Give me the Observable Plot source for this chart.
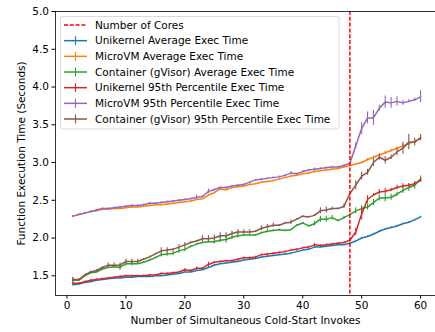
<!DOCTYPE html>
<html>
<head>
<meta charset="utf-8">
<script src="https://cdn.jsdelivr.net/npm/d3@7"></script>
<script src="https://cdn.jsdelivr.net/npm/@observablehq/plot@0.6"></script>
<style>
  html, body { margin: 0; padding: 0; background: #fff; }
  #chart { width: 435px; height: 332px; position: relative; }
</style>
</head>
<body>
<div id="chart"></div>
<script>
const invokes = d3.range(1, 61);
const coresLine = 48;
const xTicks = [0, 10, 20, 30, 40, 50, 60];
const yTicks = [1.5, 2.0, 2.5, 3.0, 3.5, 4.0, 4.5, 5.0];

const seriesNames = [
  "Unikernel Average Exec Time",
  "MicroVM Average Exec Time",
  "Container (gVisor) Average Exec Time",
  "Unikernel 95th Percentile Exec Time",
  "MicroVM 95th Percentile Exec Time",
  "Container (gVisor) 95th Percentile Exec Time"
];
const seriesColors = ["#1f77b4", "#ff7f0e", "#2ca02c", "#d62728", "#9467bd", "#8c564b"];

const unikernelAvg = [1.38,1.39,1.41,1.42,1.44,1.45,1.46,1.47,1.47,1.48, 1.48,1.49,1.49,1.49,1.50,1.50,1.51,1.52,1.53,1.55, 1.55,1.57,1.58,1.61,1.64,1.66,1.67,1.68,1.69,1.71, 1.72,1.73,1.75,1.76,1.77,1.78,1.79,1.80,1.82,1.84, 1.85,1.88,1.88,1.89,1.90,1.91,1.91,1.93,1.96,2.00, 2.02,2.05,2.09,2.12,2.14,2.16,2.19,2.21,2.24,2.28];
const microvmAvg = [2.29,2.31,2.33,2.35,2.36,2.38,2.38,2.39,2.39,2.40, 2.41,2.41,2.42,2.43,2.44,2.44,2.45,2.46,2.47,2.48, 2.49,2.51,2.52,2.57,2.60,2.65,2.64,2.67,2.68,2.69, 2.71,2.72,2.74,2.75,2.76,2.78,2.80,2.82,2.83,2.85, 2.86,2.88,2.89,2.90,2.91,2.92,2.94,2.96,2.98,3.00, 3.04,3.07,3.10,3.13,3.16,3.19,3.22,3.25,3.28,3.32];
const containerAvg = [1.44,1.44,1.50,1.54,1.55,1.59,1.61,1.62,1.61,1.66, 1.66,1.66,1.68,1.71,1.74,1.78,1.79,1.80,1.83,1.85, 1.89,1.92,1.94,1.95,1.95,1.97,1.98,2.01,2.03,2.04, 2.04,2.04,2.07,2.09,2.10,2.11,2.10,2.11,2.17,2.20, 2.16,2.19,2.25,2.25,2.27,2.23,2.27,2.31,2.36,2.39, 2.41,2.47,2.53,2.53,2.54,2.58,2.63,2.67,2.70,2.78];
const unikernelP95 = [1.40,1.40,1.42,1.44,1.45,1.46,1.47,1.48,1.49,1.50, 1.50,1.50,1.50,1.51,1.51,1.53,1.53,1.54,1.55,1.58, 1.57,1.60,1.60,1.65,1.68,1.69,1.70,1.70,1.72,1.74, 1.74,1.75,1.78,1.79,1.80,1.81,1.82,1.84,1.85,1.87, 1.88,1.91,1.90,1.91,1.92,1.93,1.94,1.97,2.08,2.32, 2.51,2.57,2.61,2.62,2.64,2.67,2.69,2.70,2.72,2.77];
const microvmP95 = [2.29,2.31,2.33,2.35,2.37,2.39,2.39,2.40,2.41,2.42, 2.43,2.43,2.44,2.46,2.46,2.47,2.48,2.49,2.50,2.51, 2.52,2.54,2.55,2.62,2.64,2.67,2.67,2.69,2.70,2.71, 2.74,2.77,2.78,2.79,2.80,2.81,2.83,2.86,2.85,2.88, 2.90,2.91,2.92,2.93,2.94,2.94,2.96,2.99,3.22,3.45, 3.59,3.59,3.72,3.80,3.79,3.81,3.79,3.81,3.83,3.87];
const containerP95 = [1.45,1.45,1.51,1.55,1.57,1.61,1.64,1.64,1.64,1.69, 1.69,1.69,1.72,1.75,1.79,1.83,1.84,1.85,1.88,1.91, 1.94,1.96,1.99,1.99,2.00,2.03,2.03,2.06,2.08,2.08, 2.08,2.09,2.13,2.15,2.17,2.17,2.20,2.21,2.25,2.29, 2.28,2.30,2.36,2.37,2.39,2.39,2.42,2.59,2.70,2.82, 2.87,3.00,3.07,3.03,3.07,3.14,3.19,3.27,3.27,3.33];

// error bar half-widths
const unikernelAvgErr = [0.01,0.01,0.01,0.01,0.01,0.01,0.01,0.01,0.01,0.01, 0.01,0.01,0.01,0.01,0.01,0.01,0.01,0.01,0.01,0.01, 0.01,0.01,0.01,0.01,0.01,0.01,0.01,0.01,0.01,0.01, 0.01,0.01,0.01,0.01,0.01,0.01,0.01,0.01,0.01,0.01, 0.01,0.01,0.01,0.01,0.01,0.01,0.01,0.01,0.01,0.01, 0.01,0.015,0.01,0.01,0.01,0.01,0.01,0.01,0.01,0.01];
const microvmAvgErr = [0.01,0.01,0.01,0.01,0.01,0.01,0.01,0.01,0.01,0.01, 0.01,0.01,0.01,0.01,0.01,0.01,0.01,0.01,0.01,0.01, 0.01,0.01,0.01,0.01,0.01,0.015,0.015,0.01,0.01,0.01, 0.01,0.01,0.01,0.01,0.01,0.01,0.01,0.01,0.01,0.01, 0.01,0.015,0.01,0.01,0.01,0.01,0.01,0.01,0.01,0.01, 0.015,0.015,0.02,0.02,0.02,0.015,0.02,0.02,0.02,0.02];
const containerAvgErr = [0.03,0.01,0.01,0.01,0.01,0.01,0.01,0.01,0.04,0.03, 0.03,0.01,0.01,0.01,0.01,0.03,0.03,0.03,0.03,0.03, 0.01,0.01,0.01,0.01,0.03,0.03,0.05,0.03,0.03,0.01, 0.01,0.01,0.01,0.02,0.01,0.01,0.01,0.01,0.01,0.01, 0.01,0.03,0.04,0.04,0.03,0.01,0.02,0.01,0.04,0.04, 0.04,0.04,0.04,0.05,0.04,0.03,0.04,0.05,0.05,0.04];
const unikernelP95Err = [0.02,0.01,0.01,0.01,0.01,0.01,0.01,0.01,0.01,0.01, 0.01,0.01,0.01,0.01,0.01,0.01,0.01,0.01,0.01,0.015, 0.01,0.015,0.01,0.03,0.01,0.01,0.01,0.01,0.01,0.01, 0.01,0.01,0.01,0.01,0.01,0.01,0.01,0.01,0.01,0.01, 0.01,0.02,0.01,0.01,0.01,0.01,0.01,0.01,0.05,0.08, 0.05,0.02,0.03,0.04,0.02,0.03,0.03,0.02,0.02,0.03];
const microvmP95Err = [0.01,0.01,0.01,0.01,0.01,0.01,0.01,0.01,0.01,0.01, 0.015,0.01,0.01,0.01,0.01,0.01,0.01,0.01,0.01,0.01, 0.01,0.03,0.01,0.03,0.01,0.01,0.01,0.01,0.01,0.01, 0.01,0.01,0.01,0.01,0.01,0.01,0.01,0.02,0.01,0.01, 0.01,0.02,0.01,0.01,0.01,0.01,0.01,0.01,0.04,0.08, 0.08,0.10,0.04,0.08,0.07,0.06,0.03,0.02,0.02,0.08];
const containerP95Err = [0.03,0.01,0.01,0.01,0.01,0.01,0.03,0.03,0.03,0.03, 0.03,0.03,0.01,0.01,0.01,0.04,0.03,0.01,0.03,0.03, 0.01,0.01,0.04,0.04,0.04,0.04,0.04,0.03,0.03,0.03, 0.03,0.01,0.03,0.03,0.03,0.01,0.01,0.03,0.01,0.01, 0.01,0.01,0.04,0.04,0.02,0.01,0.03,0.02,0.06,0.05, 0.04,0.05,0.04,0.05,0.03,0.05,0.08,0.10,0.05,0.04];

const seriesValues = [unikernelAvg, microvmAvg, containerAvg, unikernelP95, microvmP95, containerP95];
const seriesErrors = [unikernelAvgErr, microvmAvgErr, containerAvgErr, unikernelP95Err, microvmP95Err, containerP95Err];

const rows = [];
seriesValues.forEach((vals, si) => {
  vals.forEach((v, i) => {
    const e = seriesErrors[si][i];
    rows.push({series: seriesNames[si], x: invokes[i], y: v, y1: v - e, y2: v + e});
  });
});

const font = "DejaVu Sans, sans-serif";
const fs = 10.5;
const yDomain = [1.239, 5.0];
const xDomain = [-1.95, 62.53];

const seriesMarks = [];
seriesNames.forEach((name, si) => {
  const data = rows.filter(d => d.series === name);
  seriesMarks.push(Plot.ruleX(data, {x: "x", y1: "y1", y2: "y2", stroke: seriesColors[si], strokeWidth: 1.1}));
  seriesMarks.push(Plot.line(data, {x: "x", y: "y", stroke: seriesColors[si], strokeWidth: 1.5}));
});

const chart = Plot.plot({
  width: 435,
  height: 332,
  marginLeft: 55,
  marginRight: 0,
  marginTop: 11,
  marginBottom: 37,
  style: {fontFamily: font, fontSize: fs + "px", background: "#fff", color: "#000"},
  x: {domain: xDomain},
  y: {domain: yDomain},
  marks: [
    ...seriesMarks,
    Plot.ruleX([coresLine], {stroke: "#ff0000", strokeWidth: 1.5, strokeDasharray: "4,1.8"}),
    Plot.ruleX([xDomain[0]], {stroke: "#000", strokeWidth: 0.8}),
    Plot.ruleY([yDomain[0]], {stroke: "#000", strokeWidth: 0.8}),
    Plot.ruleY([yDomain[1]], {stroke: "#000", strokeWidth: 0.8}),
    Plot.axisX({ticks: xTicks, tickFormat: d3.format("d"), tickSize: 3.5, tickPadding: 3, fontSize: fs, label: null}),
    Plot.axisY({ticks: yTicks, tickFormat: d3.format(".1f"), tickSize: 3.5, tickPadding: 3, fontSize: fs, label: null}),
    Plot.text(["Number of Simultaneous Cold-Start Invokes"], {frameAnchor: "bottom", dy: 28, fontSize: fs, fill: "#000", textAnchor: "middle"}),
    Plot.text(["Function Execution Time (Seconds)"], {frameAnchor: "left", dx: -34, rotate: -90, fontSize: fs, fill: "#000", textAnchor: "middle"})
  ]
});

document.getElementById("chart").appendChild(chart);

// Legend inside the plot (upper left)
const svg = d3.select(chart);
const lg = svg.append("g").attr("font-family", font).attr("font-size", fs).attr("text-anchor", "start");
const bx = 60.5, by = 16.5, bw = 278.5, bh = 112.5;
lg.append("rect").attr("x", bx).attr("y", by).attr("width", bw).attr("height", bh)
  .attr("rx", 2).attr("fill", "rgba(255,255,255,0.8)").attr("stroke", "#d0d0d0").attr("stroke-width", 0.8);
const legendLabels = ["Number of Cores", ...seriesNames];
const legendColors = ["#ff0000", ...seriesColors];
const rowH = 15.67;
legendLabels.forEach((lab, i) => {
  const cy = 25 + i * rowH;
  const g = lg.append("g");
  const line = g.append("line").attr("x1", 64).attr("x2", 87).attr("y1", cy).attr("y2", cy)
    .attr("stroke", legendColors[i]).attr("stroke-width", 1.5);
  if (i === 0) {
    line.attr("stroke-dasharray", "4,1.8");
  } else {
    g.append("line").attr("x1", 75.5).attr("x2", 75.5).attr("y1", cy - 4.5).attr("y2", cy + 4.5)
      .attr("stroke", legendColors[i]).attr("stroke-width", 1.1);
  }
  g.append("text").attr("x", 95).attr("y", cy).attr("dy", "0.35em").attr("text-anchor", "start").attr("fill", "#000").text(lab);
});
</script>
</body>
</html>
